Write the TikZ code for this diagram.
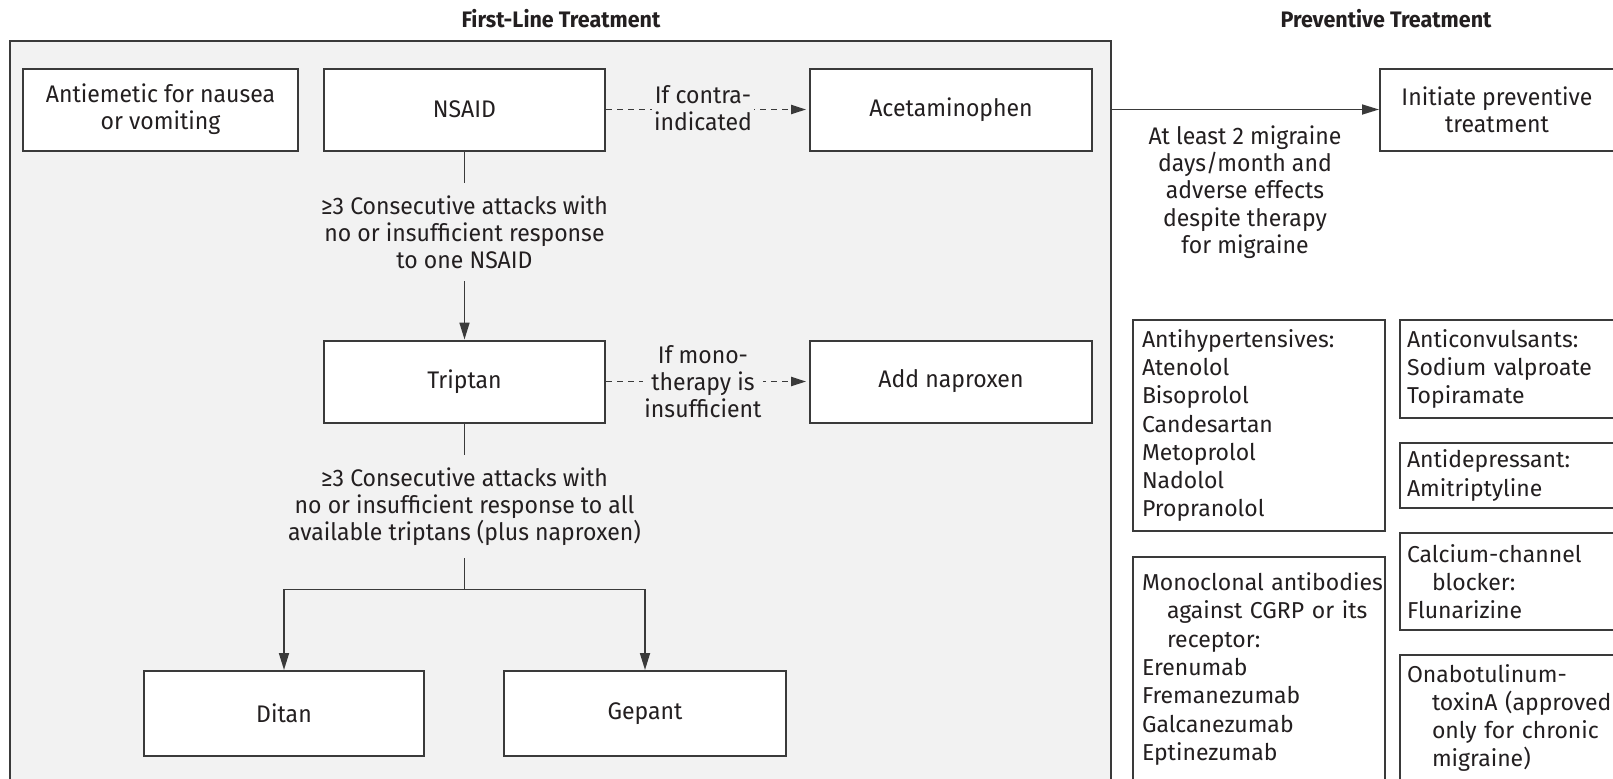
\documentclass[tikz,border=0pt]{standalone}
\usepackage{fontspec}
\setmainfont{Fira Sans}
\newfontfamily\narrowsans{Fira Sans}[FakeStretch=0.96]
\usetikzlibrary{arrows.meta}
\definecolor{panelgray}{HTML}{F2F2F2}
\definecolor{linecol}{HTML}{3A3A3A}
\definecolor{textcol}{HTML}{231F20}
\newcommand\flowfont{\narrowsans\fontsize{12}{13.6}\selectfont}
\newcommand\listfont{\fontsize{11.5}{14.15}\selectfont}
\newcommand\headfont{\narrowsans\bfseries\fontsize{11.2}{14}\selectfont}
\begin{document}
\begin{tikzpicture}[x=0.5pt,y=-0.5pt,
  every node/.style={text=textcol},
  panel/.style={draw=linecol, line width=1.1pt, fill=panelgray, inner sep=0pt},
  flowbox/.style={draw=linecol, line width=1pt, fill=white, minimum height=41pt, align=center, inner sep=0pt, font=\flowfont},
  lbl/.style={align=center, font=\flowfont, inner xsep=2pt, inner ysep=6pt},
  headline/.style={font=\headfont, inner sep=0pt},
  listbox/.style={draw=linecol, line width=1pt, fill=white, anchor=north west, align=left, font=\listfont, inner ysep=0pt},
  conn/.style={draw=linecol, line width=0.85pt},
  arr/.style={conn, -{Triangle[length=8.5pt,width=5pt]}},
  darr/.style={conn, dash pattern=on 3pt off 2.5pt, -{Triangle[length=7.5pt,width=4.6pt]}, shorten >=1.5pt}
]
\clip (0,0) rectangle (1613,778);
% panel
\node[panel, minimum width=550.5pt, minimum height=379.5pt] (panel) at (560.5,420.5) {};
% headings
\node[headline] (t1) at (561,19) {First-Line Treatment};
\node[headline] (t2) at (1386,19) {Preventive Treatment};
% flow boxes
\node[flowbox, minimum width=137.5pt] (anti) at (160.5,109.5) {Antiemetic for nausea\\or vomiting};
\node[flowbox, minimum width=140.5pt] (nsaid) at (464.5,109.5) {NSAID};
\node[flowbox, minimum width=141pt] (acet) at (951,109.5) {Acetaminophen};
\node[flowbox, minimum width=117pt] (init) at (1497,109.5) {Initiate preventive\\treatment};
\node[flowbox, minimum width=140.5pt] (triptan) at (464.5,381.5) {Triptan};
\node[flowbox, minimum width=141pt] (addnap) at (951,381.5) {Add naproxen};
\node[flowbox, minimum width=140pt, minimum height=42.5pt] (ditan) at (284,713.5) {Ditan};
\node[flowbox, minimum width=141pt, minimum height=42.5pt] (gepant) at (645,713.5) {Gepant};
% labels
\node[lbl] (lab1) at (464.5,232) {≥3 Consecutive attacks with\\no or insufficient response\\to one NSAID};
\node[lbl] (lab2) at (464.5,506.5) {≥3 Consecutive attacks with\\no or insufficient response to all\\available triptans (plus naproxen)};
\node[lbl] (lab5) at (1245,192) {At least 2 migraine\\days/month and\\adverse effects\\despite therapy\\for migraine};
% connectors
\draw[conn] (nsaid.south) -- (lab1.north);
\draw[arr] (lab1.south) -- (triptan.north);
\draw[conn] (triptan.south) -- (lab2.north);
\coordinate (split) at (464.5,589.5);
\draw[conn] (lab2.south) -- (split);
\draw[arr] (split) -| (ditan.north);
\draw[arr] (split) -| (gepant.north);
\draw[darr] (nsaid.east) -- (acet.west);
\draw[darr] (triptan.east) -- (addnap.west);
\node[lbl, fill=panelgray, inner ysep=0pt, inner xsep=0.8pt] (lab3) at (703,108) {If contra-\\indicated};
\node[lbl, fill=panelgray, inner ysep=0pt, inner xsep=0.8pt] (lab4) at (703,381.5) {If mono-\\therapy is\\insufficient};
\coordinate (pedge) at (1111,109.5);
\draw[arr] (pedge) -- (init.west);
% preventive lists
\node[listbox, inner xsep=4.5pt, text width=117pt, minimum height=105.5pt] (antihyp) at (1132,319)
  {Antihypertensives:\\Atenolol\\Bisoprolol\\Candesartan\\Metoprolol\\Nadolol\\Propranolol};
\node[listbox, inner xsep=4.5pt, text width=117pt, minimum height=112pt] (mabs) at (1132,556)
  {\mbox{Monoclonal antibodies}\\\hspace*{12.5pt}against CGRP or its\\\hspace*{12.5pt}receptor:\\Erenumab\\Fremanezumab\\Galcanezumab\\Eptinezumab};
\node[listbox, inner xsep=3.5pt, text width=113.5pt, minimum height=49pt] (anticonv) at (1399,319)
  {Anticonvulsants:\\Sodium valproate\\Topiramate};
\node[listbox, inner xsep=3.5pt, text width=113.5pt, minimum height=32.5pt] (antidep) at (1399,442)
  {Antidepressant:\\Amitriptyline};
\node[listbox, inner xsep=3.5pt, text width=113.5pt, minimum height=48.5pt] (calcium) at (1399,532)
  {Calcium-channel\\\hspace*{12.5pt}blocker:\\Flunarizine};
\node[listbox, inner xsep=3.5pt, text width=113.5pt, minimum height=63pt] (onabot) at (1399,654)
  {Onabotulinum-\\\hspace*{12.5pt}toxinA (approved\\\hspace*{12.5pt}only for chronic\\\hspace*{12.5pt}migraine)};
\end{tikzpicture}
\end{document}
